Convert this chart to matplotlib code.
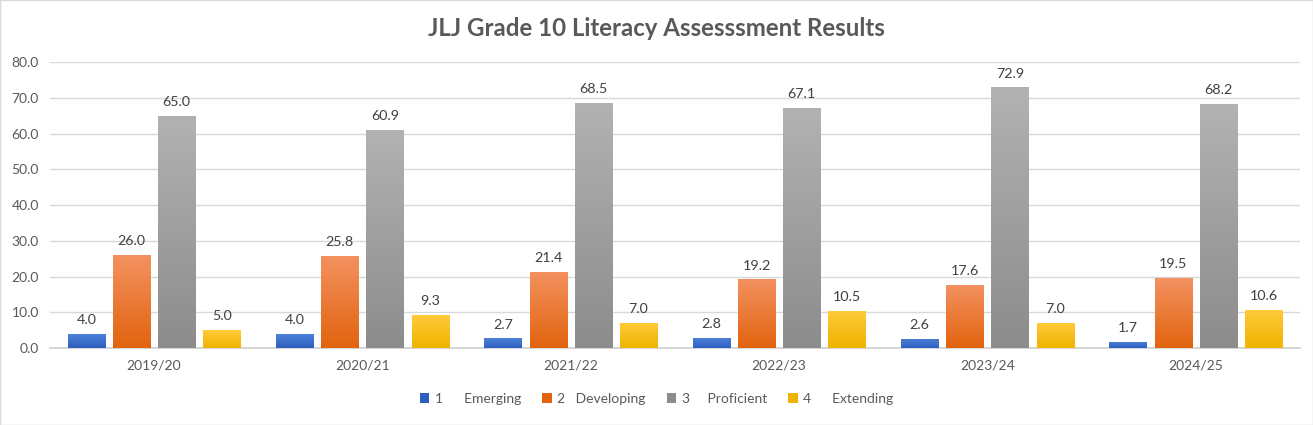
import numpy as np
from matplotlib import pyplot as plt
from matplotlib.colors import LinearSegmentedColormap
from matplotlib.patches import Rectangle, Patch

plt.rcParams['font.family'] = ['Lato', 'DejaVu Sans']

years = ["2019/20", "2020/21", "2021/22", "2022/23", "2023/24", "2024/25"]
emerging = [4.0, 4.0, 2.7, 2.8, 2.6, 1.7]
developing = [26.0, 25.8, 21.4, 19.2, 17.6, 19.5]
proficient = [65.0, 60.9, 68.5, 67.1, 72.9, 68.2]
extending = [5.0, 9.3, 7.0, 10.5, 7.0, 10.6]
labels = ["1      Emerging", "2   Developing", "3     Proficient", "4      Extending"]

series = [emerging, developing, proficient, extending]
# (top colour, bottom colour) for the gradient fill
grads = [("#4f83d8", "#2c5fbf"), ("#f39160", "#e2640f"),
         ("#b2b2b2", "#8c8c8c"), ("#ffcb3a", "#efb300")]
txt = "#595959"

fig = plt.figure(figsize=(13.13, 4.25), dpi=100)
ax = fig.add_axes([0.038, 0.181, 0.952, 0.673])

x = np.arange(len(years))
step = 0.217
width = 0.178

for i, vals in enumerate(series):
    cmap = LinearSegmentedColormap.from_list("g%d" % i, [grads[i][1], grads[i][0]])
    pos = x + (i - 1.5) * step
    bars = ax.bar(pos, vals, width, color="none", edgecolor="none", zorder=3)
    for b, v in zip(bars, vals):
        x0 = b.get_x()
        im = ax.imshow(np.linspace(0, 1, 100).reshape(-1, 1), cmap=cmap,
                       extent=[x0, x0 + width, 0, v], origin="lower",
                       aspect="auto", zorder=3)
        im.set_clip_path(b)
        ax.text(b.get_x() + width / 2, v + 2.2, "%.1f" % v, ha="center",
                va="bottom", fontsize=10.3, color="#404040")

ax.set_xlim(-0.5, len(years) - 0.5)
ax.set_ylim(0, 80)
ax.set_yticks(np.arange(0, 81, 10))
ax.set_yticklabels(["%.1f" % t for t in np.arange(0, 81, 10)])
ax.set_xticks(x)
ax.set_xticklabels(years)
ax.tick_params(axis="both", length=0, labelsize=10, labelcolor=txt, pad=8)
ax.grid(axis="y", color="#d9d9d9", linewidth=1, zorder=0)
ax.set_axisbelow(True)
for s in ["top", "right", "left"]:
    ax.spines[s].set_visible(False)
ax.spines["bottom"].set_color("#d0d0d0")
ax.spines["bottom"].set_linewidth(1.2)

fig.text(0.5, 0.932, "JLJ Grade 10 Literacy Assesssment Results", ha="center",
         va="center", fontsize=17.3, fontweight="bold", color=txt)

handles = [Patch(facecolor=g[1], edgecolor="none") for g in grads]
fig.legend(handles, labels, loc="center", bbox_to_anchor=(0.5, 0.061), ncol=4,
           frameon=False, fontsize=10, labelcolor=txt, handlelength=0.7,
           handleheight=0.7, handletextpad=0.4, columnspacing=1.5)

fig.patches.append(Rectangle((0, 0), 1, 1, transform=fig.transFigure,
                             fill=False, edgecolor="#d9d9d9", linewidth=1))

fig.savefig("out.png", dpi=100)
